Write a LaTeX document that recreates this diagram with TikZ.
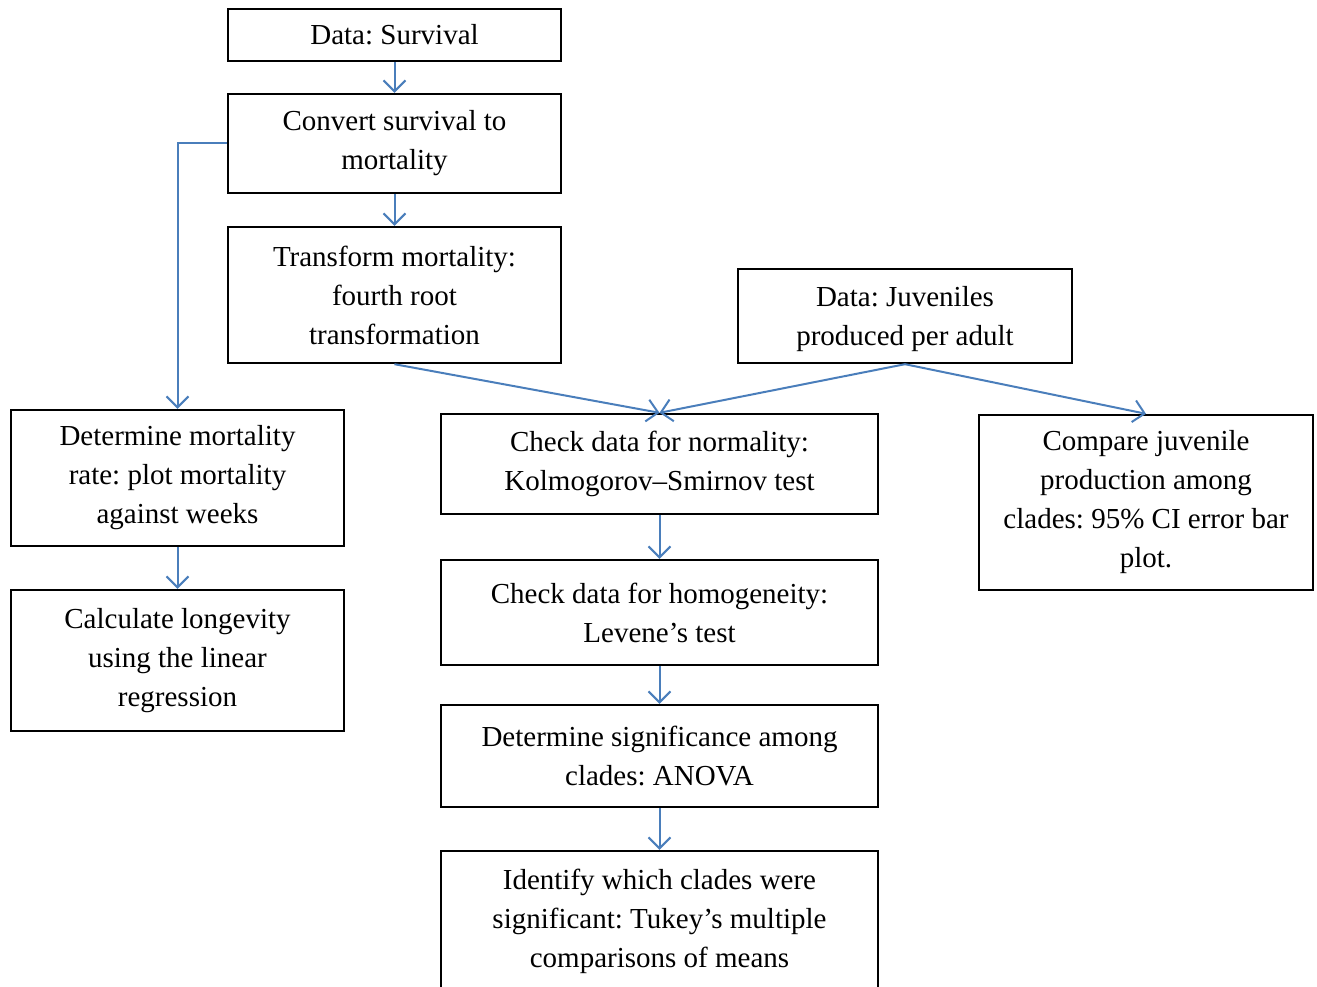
\documentclass[tikz,border=0pt]{standalone}
\usepackage{fontspec}
\setmainfont{Liberation Serif}
\usetikzlibrary{arrows.meta}
\definecolor{connblue}{HTML}{4A7EBB}
\begin{document}
\frenchspacing
\begin{tikzpicture}[x=1pt,y=-1pt,
  box/.style={draw=black,line width=2.4pt,align=center,inner sep=0pt,
    font=\fontsize{29pt}{39pt}\selectfont},
  conn/.style={draw=connblue,line width=2pt,-{Straight Barb[length=11pt,width=22pt]}}]
\useasboundingbox (0,0) rectangle (1317,987);
\node[box,minimum width=333pt,minimum height=52pt] (a) at (394.5,35) {Data: Survival};
\node[box,minimum width=333pt,minimum height=99pt] (b) at (394.5,143.5) {Convert survival to\\mortality};
\node[box,minimum width=333pt,minimum height=136pt] (c) at (394.5,295) {Transform mortality:\\fourth root\\transformation};
\node[box,minimum width=334pt,minimum height=94pt,text depth=-1pt] (d) at (905,316) {Data: Juveniles\\produced per adult};
\node[box,minimum width=333pt,minimum height=136pt] (e) at (177.5,478) {Determine mortality\\rate: plot mortality\\against weeks};
\node[box,minimum width=333pt,minimum height=141pt] (f) at (177.5,660.5) {Calculate longevity\\using the linear\\regression};
\node[box,minimum width=437pt,minimum height=100pt] (g) at (659.5,464) {Check data for normality:\\Kolmogorov--Smirnov test};
\node[box,minimum width=334pt,minimum height=175pt] (h) at (1146,502.5) {Compare juvenile\\production among\\clades: 95\% CI error bar\\plot.};
\node[box,minimum width=437pt,minimum height=105pt] (i) at (659.5,612.5) {Check data for homogeneity:\\Levene’s test};
\node[box,minimum width=437pt,minimum height=102pt] (j) at (659.5,756) {Determine significance among\\clades: ANOVA};
\node[box,minimum width=437pt,minimum height=140pt] (k) at (659.5,921) {Identify which clades were\\significant: Tukey’s multiple\\comparisons of means};
\draw[conn] (a) -- (b);
\draw[conn] (b) -- (c);
\draw[conn] (b.west) -| (e.north);
\draw[conn] (e) -- (f);
\draw[conn] (c.south) -- (g.north);
\draw[conn] (d.south) -- (g.north);
\draw[conn] (d.south) -- (h.north);
\draw[conn] (g) -- (i);
\draw[conn] (i) -- (j);
\draw[conn] (j) -- (k);
\end{tikzpicture}
\end{document}
